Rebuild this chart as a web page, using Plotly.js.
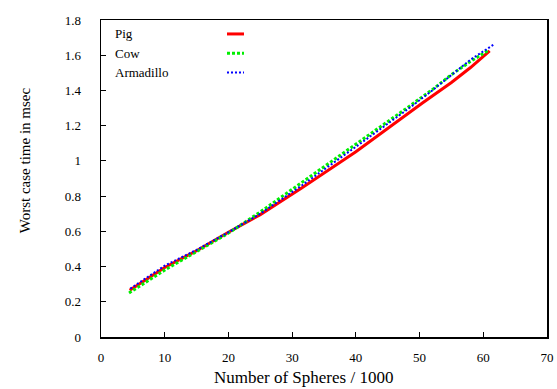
<!DOCTYPE html>
<html>
<head>
<meta charset="utf-8">
<script src="https://cdn.plot.ly/plotly-3.0.1.min.js"></script>
<style>html,body{margin:0;padding:0;background:#fff;}#chart{width:557px;height:389px;}</style>
</head>
<body>
<div id="chart"></div>
<script>
// Series names
const seriesNames = ["Pig", "Cow", "Armadillo"];

// Pig
const pigX = [4.5, 10, 15, 20, 25, 31.5, 40, 48.2, 50.5, 55, 58, 61];
const pigY = [0.265, 0.395, 0.49, 0.595, 0.695, 0.846, 1.052, 1.27, 1.33, 1.445, 1.53, 1.625];

// Cow
const cowX = [4.4, 10, 15, 20, 25, 31.5, 40, 48.2, 52.2, 55, 58, 60.8];
const cowY = [0.25, 0.38, 0.485, 0.59, 0.71, 0.875, 1.095, 1.305, 1.41, 1.49, 1.565, 1.628];

// Armadillo
const armX = [4.6, 10, 15, 20, 25, 31.5, 40, 48.2, 52, 55, 58, 61.7];
const armY = [0.275, 0.405, 0.495, 0.595, 0.70, 0.86, 1.08, 1.295, 1.40, 1.49, 1.575, 1.662];

// Axis ticks
const xTicks = [0, 10, 20, 30, 40, 50, 60, 70];
const yTicks = [0, 0.2, 0.4, 0.6, 0.8, 1, 1.2, 1.4, 1.6, 1.8];
const yTickText = ["0", "0.2", "0.4", "0.6", "0.8", "1", "1.2", "1.4", "1.6", "1.8"];

const colors = ["#ff0000", "#00ee00", "#0000ff"];
const widths = [3, 3, 2];
const dashes = ["solid", "3px,2px", "2px,2px"];

const xs = [pigX, cowX, armX];
const ys = [pigY, cowY, armY];

const traces = seriesNames.map((n, i) => ({
  type: "scatter", mode: "lines", name: n,
  x: xs[i], y: ys[i],
  line: {color: colors[i], width: widths[i], dash: dashes[i]},
  showlegend: false
}));

const font = "Liberation Serif";
const legendY = [0.956, 0.895, 0.834];

const annotations = [
  {xref: "paper", yref: "paper", x: 0.455, y: -0.128, xanchor: "center", yanchor: "middle",
   text: "Number of Spheres / 1000", showarrow: false, font: {family: font, size: 17, color: "#000"}},
  {xref: "paper", yref: "paper", x: -0.170, y: 0.558, xanchor: "center", yanchor: "middle",
   text: "Worst case time in msec", textangle: -90, showarrow: false, font: {family: font, size: 15, color: "#000"}}
];
const shapes = [];
seriesNames.forEach((n, i) => {
  annotations.push({xref: "paper", yref: "paper", x: 0.026, y: legendY[i], xanchor: "left", yanchor: "middle",
    text: n, showarrow: false, font: {family: font, size: 13, color: "#000"}});
  shapes.push({type: "line", xref: "paper", yref: "paper", x0: 0.2825, x1: 0.3206, y0: legendY[i], y1: legendY[i],
    line: {color: colors[i], width: widths[i], dash: dashes[i]}});
});

const layout = {
  width: 557, height: 389,
  margin: {l: 101, r: 10, t: 20, b: 52},
  paper_bgcolor: "#fff", plot_bgcolor: "#fff",
  font: {family: font, size: 12, color: "#000"},
  showlegend: false,
  xaxis: {
    range: [0, 70], tickvals: xTicks, ticktext: xTicks.map(String),
    showgrid: false, zeroline: false, showline: true, mirror: true,
    linecolor: "#000", linewidth: 1.5, ticks: "inside", ticklen: 5, tickcolor: "#000",
    ticklabelstandoff: 8, tickfont: {family: font, size: 13}
  },
  yaxis: {
    range: [0, 1.8], tickvals: yTicks, ticktext: yTickText,
    showgrid: false, zeroline: false, showline: true, mirror: true,
    linecolor: "#000", linewidth: 1.5, ticks: "inside", ticklen: 5, tickcolor: "#000",
    ticklabelstandoff: 16, tickfont: {family: font, size: 13}
  },
  annotations: annotations,
  shapes: shapes
};

Plotly.newPlot("chart", traces, layout, {staticPlot: true, displayModeBar: false});
</script>
</body>
</html>
